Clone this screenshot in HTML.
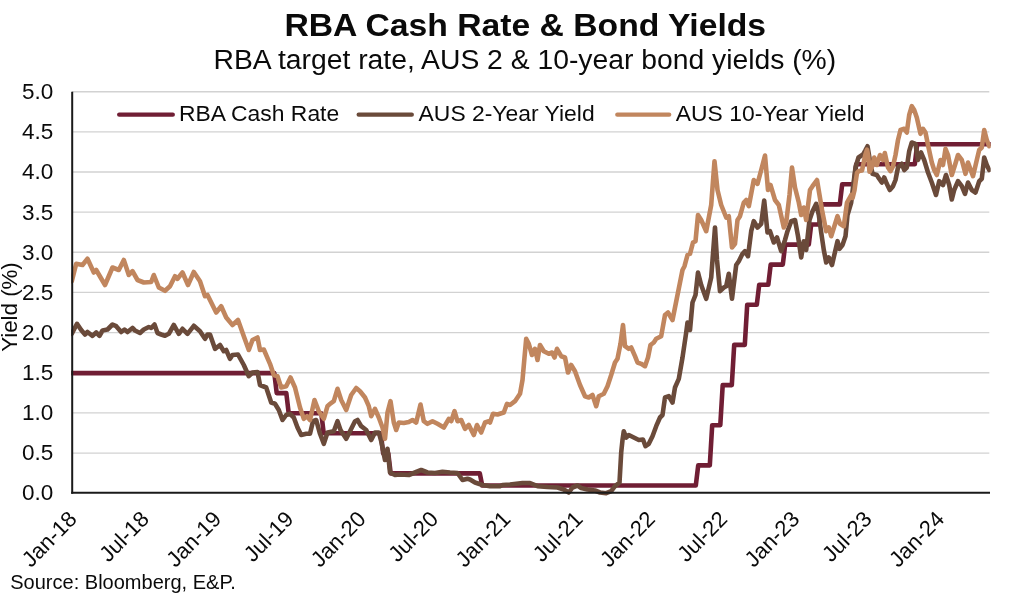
<!DOCTYPE html>
<html lang="en"><head><meta charset="utf-8"><title>RBA Cash Rate &amp; Bond Yields</title>
<style>html,body{margin:0;padding:0;background:#fff}body{width:1024px;height:596px;overflow:hidden}svg{display:block;filter:blur(0.45px)}text{font-family:"Liberation Sans",Arial,sans-serif;fill:#0a0a0a}</style></head><body>
<svg width="1024" height="596" viewBox="0 0 1024 596">
<rect width="1024" height="596" fill="#fff"/>
<line x1="72" x2="989.3" y1="453.1" y2="453.1" stroke="#d2d2d2" stroke-width="1.4"/>
<line x1="72" x2="989.3" y1="412.9" y2="412.9" stroke="#d2d2d2" stroke-width="1.4"/>
<line x1="72" x2="989.3" y1="372.8" y2="372.8" stroke="#d2d2d2" stroke-width="1.4"/>
<line x1="72" x2="989.3" y1="332.6" y2="332.6" stroke="#d2d2d2" stroke-width="1.4"/>
<line x1="72" x2="989.3" y1="292.4" y2="292.4" stroke="#d2d2d2" stroke-width="1.4"/>
<line x1="72" x2="989.3" y1="252.3" y2="252.3" stroke="#d2d2d2" stroke-width="1.4"/>
<line x1="72" x2="989.3" y1="212.1" y2="212.1" stroke="#d2d2d2" stroke-width="1.4"/>
<line x1="72" x2="989.3" y1="172.0" y2="172.0" stroke="#d2d2d2" stroke-width="1.4"/>
<line x1="72" x2="989.3" y1="131.9" y2="131.9" stroke="#d2d2d2" stroke-width="1.4"/>
<line x1="72" x2="989.3" y1="91.7" y2="91.7" stroke="#d2d2d2" stroke-width="1.4"/>
<clipPath id="pc"><rect x="71.2" y="80" width="919.5" height="420"/></clipPath><g clip-path="url(#pc)">
<path d="M72.0,373.1 L274.3,373.1 L276.7,393.1 L286.3,393.1 L288.7,413.2 L321.3,413.2 L323.7,433.3 L380.8,433.3 L383.2,453.4 L388.3,453.4 L390.7,473.4 L479.8,473.4 L482.2,485.5 L695.8,485.5 L698.2,465.4 L709.8,465.4 L712.2,425.2 L720.3,425.2 L722.7,385.1 L731.8,385.1 L734.2,344.9 L744.8,344.9 L747.2,304.8 L756.8,304.8 L759.2,284.7 L768.3,284.7 L770.7,264.6 L782.8,264.6 L785.2,244.6 L808.8,244.6 L811.2,224.5 L819.3,224.5 L821.7,204.4 L839.8,204.4 L842.2,184.3 L853.8,184.3 L856.2,164.3 L914.8,164.3 L917.2,144.2 L990.0,144.2" fill="none" stroke="#701e34" stroke-width="4.6" stroke-linejoin="round" stroke-linecap="round"/>
<path d="M71.8,333.8 L77.0,323.8 L81.2,330.0 L85.0,334.5 L87.5,332.0 L92.5,335.8 L96.2,332.5 L99.5,335.8 L102.5,330.5 L107.5,329.5 L112.5,324.5 L116.2,326.2 L121.2,332.0 L124.5,329.5 L127.5,332.0 L132.5,328.0 L135.0,330.5 L140.0,333.0 L143.8,329.5 L148.8,327.0 L151.2,328.0 L154.5,324.5 L157.5,333.0 L161.2,334.5 L165.0,335.8 L168.8,333.8 L173.8,325.0 L178.8,333.8 L182.5,328.8 L187.5,333.8 L193.8,325.8 L200.0,331.2 L205.0,338.8 L207.5,334.5 L210.0,334.5 L215.0,348.8 L220.0,345.0 L223.8,351.2 L226.2,350.0 L230.0,358.8 L232.5,355.0 L238.0,354.5 L243.8,365.0 L248.8,376.2 L252.5,372.5 L257.5,372.0 L260.0,385.0 L266.2,387.5 L271.2,402.5 L275.0,403.8 L278.8,410.0 L282.5,420.0 L286.2,415.0 L290.0,413.8 L293.8,417.5 L297.5,427.5 L301.2,435.0 L306.2,433.8 L310.0,433.8 L313.0,421.2 L316.2,420.0 L320.0,433.8 L323.8,443.8 L327.5,432.5 L333.8,431.2 L337.5,421.2 L340.5,430.0 L346.2,438.8 L350.0,431.2 L355.0,421.2 L357.5,420.0 L361.2,426.2 L366.2,430.0 L371.2,440.0 L375.0,432.5 L378.8,432.5 L381.2,441.2 L385.0,460.0 L387.5,448.8 L390.0,472.5 L395.0,475.0 L400.0,474.5 L408.8,475.0 L415.0,472.5 L421.2,470.0 L427.5,472.5 L435.0,473.0 L442.5,471.8 L450.0,472.5 L457.5,473.0 L462.5,480.0 L467.5,478.8 L470.0,479.5 L475.0,482.5 L482.5,485.0 L490.0,486.2 L500.0,486.2 L502.5,485.0 L510.0,484.5 L522.5,483.0 L530.0,483.0 L537.5,486.2 L547.5,487.0 L557.5,487.5 L563.8,489.5 L568.8,492.5 L572.5,487.5 L577.5,485.5 L581.2,488.0 L587.5,489.5 L595.0,490.5 L600.0,492.5 L606.2,493.2 L611.2,491.2 L615.0,486.2 L619.5,482.5 L621.2,452.5 L622.5,440.0 L623.8,431.2 L626.2,437.5 L628.8,435.0 L633.8,437.5 L638.8,440.0 L643.0,439.5 L645.5,446.2 L648.8,443.8 L652.5,436.2 L656.2,426.2 L660.0,417.5 L662.5,415.0 L665.0,397.5 L668.8,396.2 L672.5,402.5 L675.0,387.5 L678.8,378.8 L682.5,357.5 L686.2,332.5 L687.5,322.5 L690.0,330.0 L692.5,302.5 L695.5,295.0 L698.0,272.5 L701.2,285.0 L706.2,298.8 L711.2,277.5 L715.0,227.5 L717.0,260.0 L720.0,291.2 L723.8,287.5 L726.2,286.2 L728.8,273.8 L732.0,298.8 L736.2,265.0 L738.8,261.2 L742.5,253.8 L745.0,251.2 L748.0,256.2 L751.2,231.2 L753.8,221.2 L757.5,227.5 L761.2,223.8 L764.2,200.5 L767.5,232.5 L770.0,231.2 L773.8,242.5 L777.0,237.5 L781.2,251.2 L785.0,240.0 L787.5,231.2 L791.2,221.2 L795.0,220.0 L798.0,236.2 L801.2,257.5 L803.8,241.2 L806.2,250.0 L809.5,220.0 L812.5,211.2 L816.2,203.8 L818.8,215.0 L821.2,232.5 L823.8,250.0 L826.2,262.5 L828.8,257.5 L832.0,265.0 L837.5,241.2 L839.5,248.8 L842.5,245.0 L845.5,236.2 L847.5,215.0 L851.2,202.5 L853.0,187.5 L855.5,167.5 L858.5,157.5 L863.0,154.5 L865.5,150.0 L867.5,146.2 L870.0,161.2 L872.5,173.8 L876.8,175.0 L879.2,178.8 L881.8,182.5 L884.2,177.5 L886.8,183.8 L889.8,190.0 L893.0,186.2 L895.5,180.0 L898.0,167.5 L901.8,163.8 L904.2,170.0 L906.8,167.5 L909.2,151.2 L911.8,142.5 L915.5,143.8 L918.0,160.0 L921.0,152.5 L924.2,160.0 L928.0,172.5 L931.8,182.5 L936.0,195.0 L939.2,181.2 L943.0,185.0 L946.0,175.0 L949.2,185.0 L951.8,199.5 L954.2,190.0 L958.0,181.2 L961.8,186.2 L965.0,193.8 L968.0,182.5 L971.8,190.0 L975.5,192.5 L979.2,181.2 L981.8,178.8 L984.2,157.5 L986.8,165.0 L989.2,170.0" fill="none" stroke="#6a4a3a" stroke-width="4.6" stroke-linejoin="round" stroke-linecap="round"/>
<path d="M71.8,281.2 L76.2,263.8 L82.5,265.0 L87.5,258.8 L93.8,272.5 L96.2,270.0 L105.0,285.0 L112.5,267.5 L118.8,270.0 L123.8,260.0 L128.8,275.0 L132.5,271.2 L137.5,280.0 L143.8,282.5 L151.2,282.0 L153.8,275.0 L158.8,287.5 L165.0,290.8 L170.0,286.2 L175.0,276.2 L177.5,278.8 L182.5,272.5 L188.0,285.0 L193.8,272.0 L200.0,281.2 L205.0,296.2 L207.5,295.0 L216.2,312.5 L221.2,306.2 L226.2,317.5 L232.5,325.0 L238.0,320.0 L243.8,336.2 L248.8,350.0 L252.5,340.0 L257.5,337.5 L260.0,350.0 L263.8,349.5 L270.0,363.8 L273.8,375.0 L277.5,376.2 L281.2,387.5 L286.2,386.2 L290.5,377.5 L295.0,387.5 L300.0,407.5 L303.8,418.8 L307.0,416.2 L310.0,420.0 L314.5,400.0 L318.8,411.2 L323.8,418.8 L327.5,406.2 L330.0,403.8 L333.8,401.2 L337.5,388.8 L341.2,400.0 L346.2,410.0 L351.2,395.0 L356.2,388.0 L360.0,391.2 L365.0,397.5 L368.8,406.2 L371.2,416.2 L375.0,408.8 L378.8,417.5 L382.5,427.5 L385.0,438.8 L387.5,412.5 L390.5,401.2 L393.8,422.5 L396.2,430.0 L398.8,422.5 L403.8,423.0 L408.8,422.0 L412.5,420.0 L416.2,422.5 L420.5,404.5 L423.8,421.2 L427.5,423.8 L432.5,421.2 L437.5,423.8 L443.8,427.5 L448.8,418.8 L451.2,421.2 L454.5,411.2 L457.5,421.2 L461.2,420.0 L465.0,428.8 L468.8,425.0 L473.8,435.0 L477.0,425.0 L481.2,432.5 L485.0,422.5 L488.8,421.2 L490.0,422.5 L493.0,413.8 L497.5,414.5 L503.8,412.5 L507.0,403.8 L510.0,405.0 L515.0,401.2 L520.0,393.8 L522.5,380.0 L524.5,357.5 L526.2,338.8 L528.8,343.8 L532.0,355.0 L535.0,348.8 L537.5,360.0 L540.0,345.0 L543.8,351.2 L548.8,353.8 L552.0,352.5 L554.5,357.5 L557.0,348.8 L561.2,356.2 L565.0,357.5 L568.0,372.5 L571.2,365.0 L575.0,371.2 L580.0,385.0 L585.0,396.2 L588.8,397.5 L592.5,395.0 L596.2,406.2 L598.8,396.2 L603.8,393.8 L607.5,386.2 L611.2,375.0 L615.0,362.5 L617.5,358.8 L620.5,343.8 L623.0,325.0 L625.0,346.2 L628.8,348.8 L631.2,347.5 L635.0,356.2 L637.5,362.5 L641.2,363.8 L645.0,366.2 L648.0,357.5 L650.5,345.0 L653.8,342.5 L656.2,338.8 L661.2,336.2 L665.0,315.0 L668.0,312.5 L672.5,320.0 L677.5,295.0 L682.5,270.0 L684.5,266.2 L687.5,255.0 L690.0,253.8 L693.0,242.5 L695.5,241.2 L698.0,215.0 L701.2,220.0 L706.2,231.2 L711.2,205.0 L714.5,161.2 L717.5,190.0 L721.2,205.0 L726.2,217.5 L728.8,216.2 L732.0,247.5 L735.0,243.8 L737.5,220.0 L740.0,216.2 L743.8,202.5 L746.2,200.0 L748.8,206.2 L753.8,180.0 L757.5,183.8 L761.2,170.0 L765.0,155.5 L768.0,190.0 L770.5,185.0 L775.0,200.0 L778.8,205.0 L783.8,227.5 L786.2,222.5 L789.5,195.0 L792.0,167.5 L795.0,187.5 L798.8,202.5 L801.2,215.0 L803.8,207.5 L806.2,220.0 L810.0,190.0 L812.5,186.2 L817.0,180.0 L819.5,195.0 L822.0,210.0 L826.2,231.2 L828.8,227.5 L831.2,236.2 L837.5,216.2 L840.0,223.8 L843.8,226.2 L847.0,202.5 L851.2,195.0 L852.6,197.9 L854.5,190.3 L855.7,181.5 L857.0,172.9 L858.9,171.0 L862.0,170.4 L863.9,161.4 L865.2,155.1 L867.0,149.6 L868.3,156.4 L869.5,171.8 L871.8,167.5 L874.2,157.5 L876.8,165.0 L880.0,155.0 L883.0,160.0 L884.8,153.0 L888.0,167.5 L890.5,171.2 L893.0,166.2 L895.5,155.0 L898.0,140.0 L900.5,130.0 L904.2,128.8 L906.8,132.5 L909.2,115.0 L911.8,106.2 L914.2,110.0 L916.8,117.5 L920.5,133.8 L923.0,128.8 L925.5,132.5 L928.0,145.0 L931.8,162.5 L934.2,170.0 L936.8,175.0 L940.5,160.0 L943.0,165.0 L945.5,148.8 L948.0,155.0 L951.8,175.0 L955.0,165.0 L958.0,155.0 L961.8,160.0 L965.5,173.8 L968.0,162.5 L973.0,176.2 L976.8,160.0 L979.2,150.0 L981.8,147.5 L984.2,130.0 L986.8,140.0 L989.2,146.2" fill="none" stroke="#c1865e" stroke-width="4.6" stroke-linejoin="round" stroke-linecap="round"/>
</g>
<line x1="72.2" x2="72.2" y1="91.7" y2="493.8" stroke="#1a1a1a" stroke-width="2"/>
<line x1="71.2" x2="990" y1="492.8" y2="492.8" stroke="#1a1a1a" stroke-width="2"/>
<text transform="translate(525.25,35.6) scale(1.0567,1)" text-anchor="middle" font-size="31.9" font-weight="bold">RBA Cash Rate &amp; Bond Yields</text>
<text transform="translate(524.85,69.0) scale(1.056,1)" text-anchor="middle" font-size="26.8">RBA target rate, AUS 2 &amp; 10-year bond yields (%)</text>
<line x1="119.2" x2="172.8" y1="114.7" y2="114.7" stroke="#701e34" stroke-width="4.3" stroke-linecap="round"/>
<text transform="translate(178.9,121.4) scale(1.06,1)" text-anchor="start" font-size="21.6">RBA Cash Rate</text>
<line x1="358.7" x2="411.8" y1="114.7" y2="114.7" stroke="#6a4a3a" stroke-width="4.3" stroke-linecap="round"/>
<text transform="translate(418.6,121.4) scale(1.06,1)" text-anchor="start" font-size="21.6">AUS 2-Year Yield</text>
<line x1="617.3" x2="669.2" y1="114.7" y2="114.7" stroke="#c1865e" stroke-width="4.3" stroke-linecap="round"/>
<text transform="translate(675.8,121.4) scale(1.06,1)" text-anchor="start" font-size="21.6">AUS 10-Year Yield</text>
<text transform="translate(53.2,499.9) scale(1.0,1)" text-anchor="end" font-size="22.5">0.0</text>
<text transform="translate(53.2,459.8) scale(1.0,1)" text-anchor="end" font-size="22.5">0.5</text>
<text transform="translate(53.2,419.8) scale(1.0,1)" text-anchor="end" font-size="22.5">1.0</text>
<text transform="translate(53.2,379.7) scale(1.0,1)" text-anchor="end" font-size="22.5">1.5</text>
<text transform="translate(53.2,339.7) scale(1.0,1)" text-anchor="end" font-size="22.5">2.0</text>
<text transform="translate(53.2,299.6) scale(1.0,1)" text-anchor="end" font-size="22.5">2.5</text>
<text transform="translate(53.2,259.5) scale(1.0,1)" text-anchor="end" font-size="22.5">3.0</text>
<text transform="translate(53.2,219.5) scale(1.0,1)" text-anchor="end" font-size="22.5">3.5</text>
<text transform="translate(53.2,179.4) scale(1.0,1)" text-anchor="end" font-size="22.5">4.0</text>
<text transform="translate(53.2,139.4) scale(1.0,1)" text-anchor="end" font-size="22.5">4.5</text>
<text transform="translate(53.2,99.3) scale(1.0,1)" text-anchor="end" font-size="22.5">5.0</text>
<text transform="translate(17.4,307) scale(1.03,1) rotate(-90)" text-anchor="middle" font-size="22.3">Yield (%)</text>
<text transform="translate(78.1,520.3) rotate(-45.5)" text-anchor="end" font-size="22">Jan-18</text>
<text transform="translate(150.4,520.3) rotate(-45.5)" text-anchor="end" font-size="22">Jul-18</text>
<text transform="translate(222.7,520.3) rotate(-45.5)" text-anchor="end" font-size="22">Jan-19</text>
<text transform="translate(294.9,520.3) rotate(-45.5)" text-anchor="end" font-size="22">Jul-19</text>
<text transform="translate(367.2,520.3) rotate(-45.5)" text-anchor="end" font-size="22">Jan-20</text>
<text transform="translate(439.5,520.3) rotate(-45.5)" text-anchor="end" font-size="22">Jul-20</text>
<text transform="translate(511.8,520.3) rotate(-45.5)" text-anchor="end" font-size="22">Jan-21</text>
<text transform="translate(584.1,520.3) rotate(-45.5)" text-anchor="end" font-size="22">Jul-21</text>
<text transform="translate(656.3,520.3) rotate(-45.5)" text-anchor="end" font-size="22">Jan-22</text>
<text transform="translate(728.6,520.3) rotate(-45.5)" text-anchor="end" font-size="22">Jul-22</text>
<text transform="translate(800.9,520.3) rotate(-45.5)" text-anchor="end" font-size="22">Jan-23</text>
<text transform="translate(873.2,520.3) rotate(-45.5)" text-anchor="end" font-size="22">Jul-23</text>
<text transform="translate(945.5,520.3) rotate(-45.5)" text-anchor="end" font-size="22">Jan-24</text>
<text transform="translate(10.2,589) scale(1.012,1)" text-anchor="start" font-size="19.8">Source: Bloomberg, E&amp;P.</text>
</svg></body></html>
